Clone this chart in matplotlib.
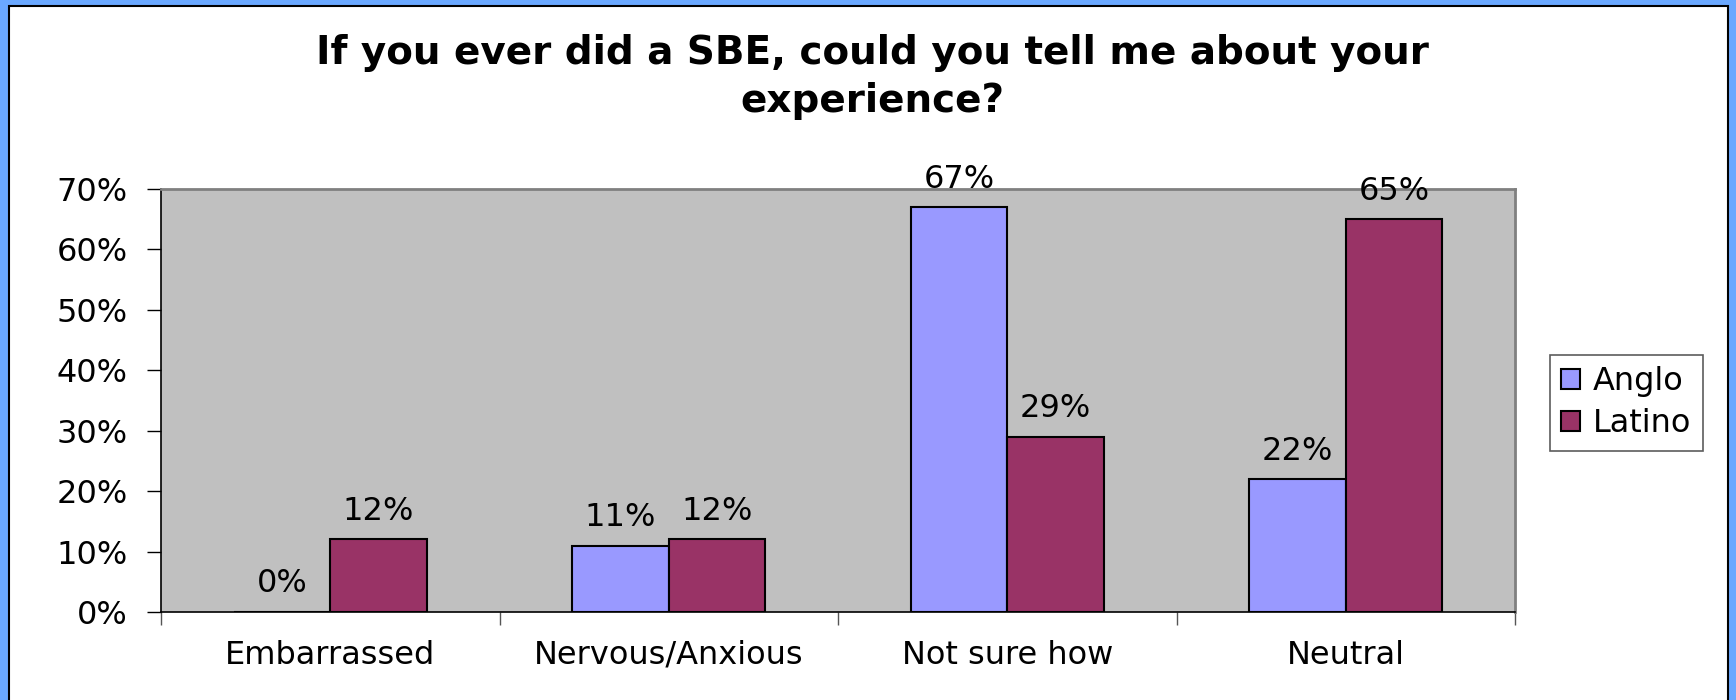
import matplotlib
matplotlib.use("Agg")
import matplotlib.pyplot as plt
import numpy as np
from matplotlib.patches import Rectangle

categories = ["Embarrassed", "Nervous/Anxious", "Not sure how", "Neutral"]
anglo = [0, 11, 67, 22]
latino = [12, 12, 29, 65]
series_names = ["Anglo", "Latino"]
yticks = [0, 10, 20, 30, 40, 50, 60, 70]
title = "If you ever did a SBE, could you tell me about your\nexperience?"

W, H = 1736, 700
fig = plt.figure(figsize=(W / 100, H / 100), dpi=100)
fig.patch.set_facecolor("#6aa8ff")
plt.rcParams['font.family'] = ['DejaVu Sans']

# white panel
panel = Rectangle((9 / W, -0.01), (1728 - 9) / W, 1.01 - 6 / H,
                  transform=fig.transFigure, facecolor="white",
                  edgecolor="black", linewidth=1.5, zorder=-10)
fig.add_artist(panel)

ax = fig.add_axes([161 / W, 1 - 612 / H, (1515 - 161) / W, (612 - 189) / H])
ax.set_facecolor("#c0c0c0")
x = np.arange(len(categories))
bw = 1 / 3.5
b1 = ax.bar(x - bw / 2, anglo, bw, color="#9999ff", edgecolor="black", linewidth=1.5, label=series_names[0])
b2 = ax.bar(x + bw / 2, latino, bw, color="#993366", edgecolor="black", linewidth=1.5, label=series_names[1])
for bars, vals in ((b1, anglo), (b2, latino)):
    for r, v in zip(bars, vals):
        ax.annotate(f"{v}%", (r.get_x() + r.get_width() / 2, v), xytext=(0, 9),
                    textcoords="offset points", ha="center", va="bottom", fontsize=23)

ax.set_xlim(-0.5, len(categories) - 0.5)
ax.set_ylim(0, 70)
ax.set_yticks(yticks)
ax.set_yticklabels([f"{t}%" for t in yticks], fontsize=23)
ax.tick_params(axis="y", length=10, width=1, pad=14)
ax.set_xticks(x)
ax.set_xticklabels(categories, fontsize=23)
ax.tick_params(axis="x", which="major", length=0, pad=20)
ax.set_xticks(np.arange(-0.5, len(categories)), minor=True)
ax.tick_params(axis="x", which="minor", length=9, width=1, color="#555555")
for s in ("top", "right"):
    ax.spines[s].set_color("#808080")
    ax.spines[s].set_linewidth(2)
for s in ("left", "bottom"):
    ax.spines[s].set_color("black")
    ax.spines[s].set_linewidth(1.2)

fig.text(872 / W, 1 - 77 / H, title, ha="center", va="center", fontsize=28,
         fontweight="bold", linespacing=1.3)

leg = fig.legend(handles=[b1, b2], labels=series_names, loc="upper left",
                 bbox_to_anchor=(1550 / W, 1 - 355 / H), fontsize=23, frameon=True,
                 fancybox=False, edgecolor="#333333", handlelength=0.6, handleheight=0.6,
                 handletextpad=0.4, borderpad=0.35, labelspacing=0.35, borderaxespad=0)
leg.get_frame().set_linewidth(1.2)

fig.savefig("out.png", dpi=100, facecolor=fig.get_facecolor())
